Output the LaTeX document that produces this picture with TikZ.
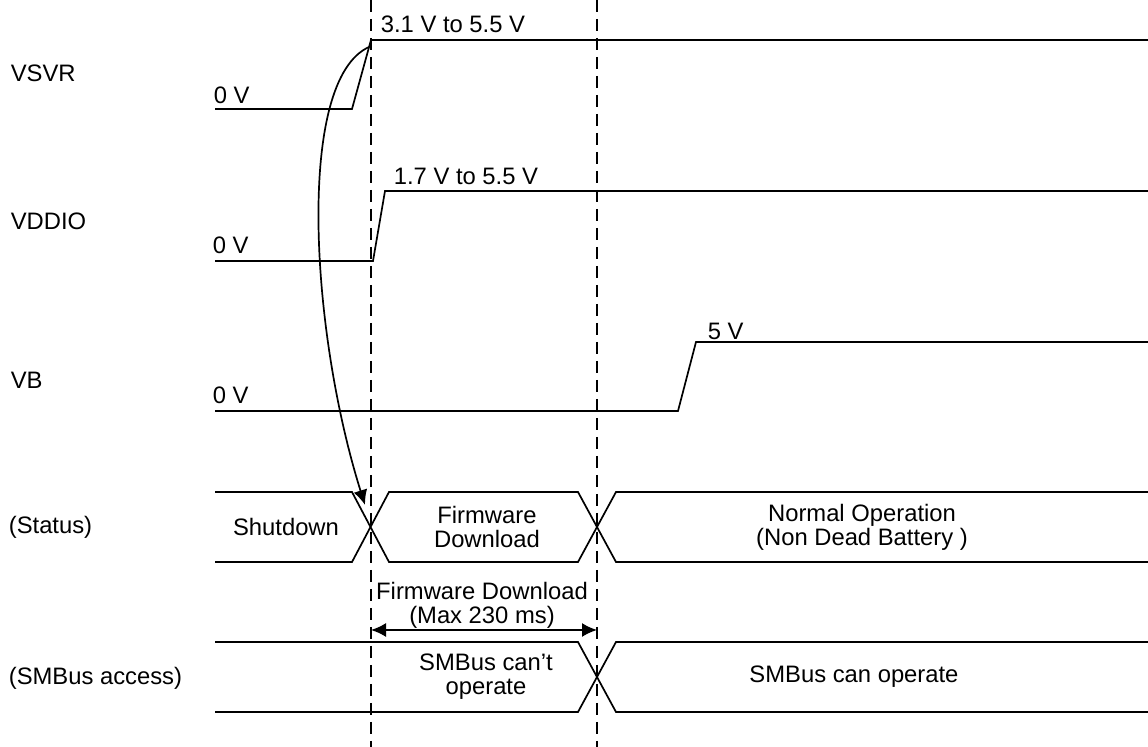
\documentclass[tikz,border=0pt]{standalone}
\usepackage{fontspec}
\setmainfont{Liberation Sans}
\usetikzlibrary{arrows.meta}

\begin{document}
\begin{tikzpicture}[x=0.5pt, y=-0.5pt, >={Latex[length=7.5pt,width=7pt]}, line width=0.85pt,
    every node/.style={font=\fontsize{11.9}{12}\selectfont, inner sep=0pt},
    lbl/.style={anchor=west},
    txt/.style={align=center},
    marker/.style={line width=0.75pt, dash pattern=on 6pt off 3.5pt}]

        \useasboundingbox (0,0) rectangle (1148,747);

        % Signal names
        \node[lbl] (vsvr) at (10,73) {VSVR};
        \node[lbl] (vddio) at (10,221) {VDDIO};
        \node[lbl] (vb) at (10,380) {VB};
        \node[lbl] (status) at (8,527) {(Status)};
        \node[lbl] (smbus) at (8,678) {(SMBus access)};

        % Time markers
        \draw[marker] (371,0) -- (371,747);
        \draw[marker] (597,0) -- (597,747);

        % VSVR
        \draw (215,109) -- (352,109) -- (371,40) -- (1148,40);
        \coordinate (trig) at (369,47);
        \node[lbl] (vsvrlo) at (213,95) {0 V};
        \node[lbl] (vsvrhi) at (380,24) {3.1 V to 5.5 V};

        % VDDIO
        \draw (215,261) -- (373,261) -- (385,191) -- (1148,191);
        \node[lbl] (vddiolo) at (212,245) {0 V};
        \node[lbl] (vddiohi) at (393,176) {1.7 V to 5.5 V};

        % VB
        \draw (215,411) -- (678,411) -- (696,342) -- (1148,342);
        \node[lbl] (vblo) at (212,395) {0 V};
        \node[lbl] (vbhi) at (707,331) {5 V};

        % Status bus
        \draw (215,492) -- (352,492) -- (389,562) -- (578,562) -- (616,492) -- (1148,492);
        \draw (215,562) -- (352,562) -- (389,492) -- (578,492) -- (616,562) -- (1148,562);
        \coordinate (shut) at (365,505);
        \node[txt] (shutdown) at (286,527) {Shutdown};
        \node[txt] (fwdl) at (487,527) {Firmware\\Download};
        \node[txt] (normal) at (862,527) {Normal Operation\\(Non Dead Battery )};

        % SMBus bus
        \draw (215,642) -- (578,642) -- (616,712) -- (1148,712);
        \draw (215,712) -- (578,712) -- (616,642) -- (1148,642);
        \node[txt] (cant) at (486,677) {SMBus can't\\operate};
        \node[txt] (can) at (854,677) {SMBus can operate};

        % Download window
        \coordinate (dlstart) at (371,630);
        \coordinate (dlend) at (597,630);
        \draw[<->] (dlstart) -- (dlend);
        \node[txt] (dltxt) at (482,605) {Firmware Download\\(Max 230 ms)};

        % VSVR up triggers the download
        \draw[->] (trig) .. controls (296,80) and (310,330) .. (shut);

\end{tikzpicture}
\end{document}
